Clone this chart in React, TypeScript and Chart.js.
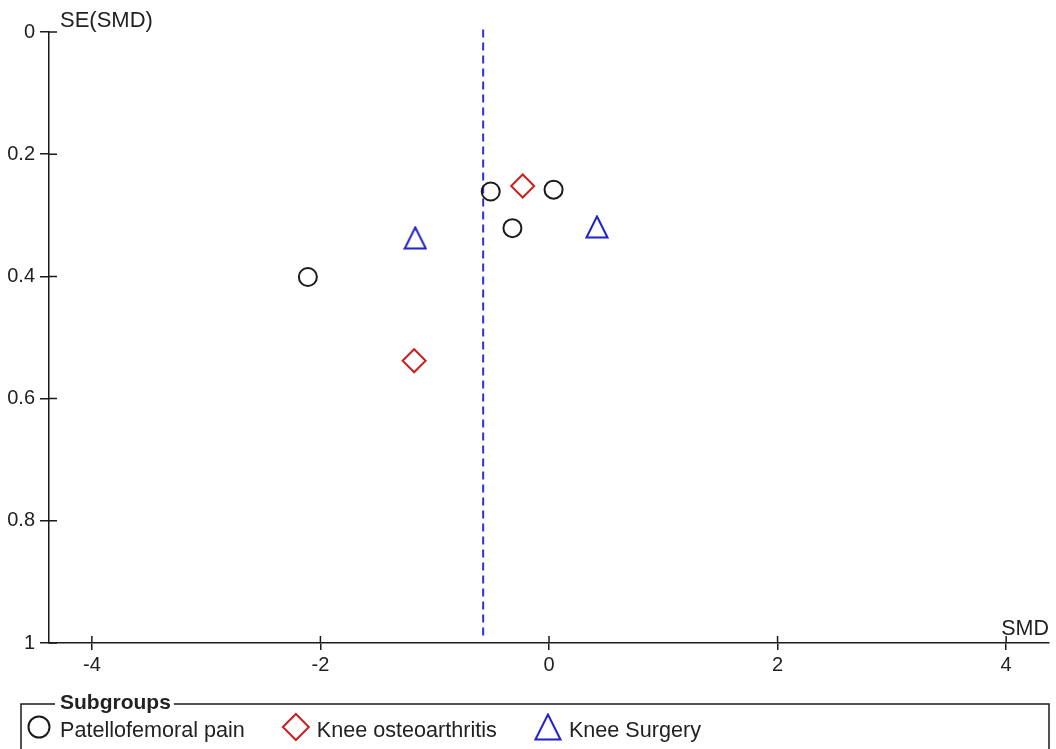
import React, { useEffect, useRef } from 'react';
import { Chart, registerables } from 'chart.js';
import { drawPoint } from 'chart.js/helpers';

Chart.register(...registerables);

// ---- data ----
const xTicks = [-4, -2, 0, 2, 4];
const yTicks = [0, 0.2, 0.4, 0.6, 0.8, 1];
const pfpSMD = [-2.11, -0.51, -0.32, 0.04];
const pfpSE = [0.401, 0.261, 0.321, 0.258];
const oaSMD = [-0.23, -1.18];
const oaSE = [0.252, 0.538];
const surgerySMD = [-1.17, 0.42];
const surgerySE = [0.337, 0.319];
const pooledSMD = -0.576;
const pooledSERange = [-0.004, 0.994];
const subgroupLabels = ['Patellofemoral pain', 'Knee osteoarthritis', 'Knee Surgery'];
const legendTitle = 'Subgroups';
const xTitle = 'SMD';
const yTitle = 'SE(SMD)';

const FONT = '"Liberation Sans", Arial, Helvetica, sans-serif';
const INK = '#1a1a1a';
const TXT = '#222';
const RED = '#cc2020';
const BLUE = '#2020c4';
const CANVAS_W = 1063;
const CANVAS_H = 749;

const pts = (xs: number[], ys: number[]) => xs.map((x, i) => ({ x, y: ys[i] }));

function makeTriangle(size: number, color: string, lw: number): HTMLCanvasElement {
  const c = document.createElement('canvas');
  c.width = size;
  c.height = size;
  const g = c.getContext('2d')!;
  const h = lw / 2 + 0.5;
  g.strokeStyle = color;
  g.lineWidth = lw;
  g.lineJoin = 'miter';
  g.beginPath();
  g.moveTo(size / 2, h);
  g.lineTo(size - h, size - h);
  g.lineTo(h, size - h);
  g.closePath();
  g.stroke();
  return c;
}

const decorPlugin = {
  id: 'decor',
  afterDraw(chart: any) {
    const ctx = chart.ctx as CanvasRenderingContext2D;
    const { left, top, right, bottom } = chart.chartArea;
    const xs = chart.scales.x;
    const ys = chart.scales.y;
    ctx.save();
    ctx.strokeStyle = INK;
    ctx.lineWidth = 1.5;
    ctx.beginPath();
    xTicks.forEach((v) => {
      const p = xs.getPixelForValue(v);
      ctx.moveTo(p, bottom);
      ctx.lineTo(p, bottom - 7);
    });
    yTicks.forEach((v) => {
      const p = ys.getPixelForValue(v);
      ctx.moveTo(left, p);
      ctx.lineTo(left + 8, p);
    });
    ctx.stroke();

    ctx.fillStyle = TXT;
    ctx.font = `22px ${FONT}`;
    ctx.textBaseline = 'alphabetic';
    ctx.textAlign = 'left';
    ctx.fillText(yTitle, left + 11, top - 5);
    ctx.font = `21.5px ${FONT}`;
    ctx.textAlign = 'right';
    ctx.fillText(xTitle, right, bottom - 8);

    // legend box
    const boxL = 21;
    const boxT = 704;
    const boxR = right;
    const boxB = chart.height + 5;
    const titleX = 60;
    ctx.font = `bold 21px ${FONT}`;
    const tw = ctx.measureText(legendTitle).width;
    ctx.beginPath();
    ctx.moveTo(boxL, boxB);
    ctx.lineTo(boxL, boxT);
    ctx.lineTo(titleX - 5, boxT);
    ctx.moveTo(titleX + tw + 3, boxT);
    ctx.lineTo(boxR, boxT);
    ctx.lineTo(boxR, boxB);
    ctx.stroke();
    ctx.textAlign = 'left';
    ctx.fillText(legendTitle, titleX, 709);

    // legend items
    ctx.font = `21.6px ${FONT}`;
    const legendStyles = [
      { pointStyle: 'circle', radius: 10.5 },
      { pointStyle: 'rectRot', radius: 13 },
      { pointStyle: makeTriangle(28, BLUE, 2), radius: 13 },
    ];
    let x = 28;
    const cy = 727;
    for (let i = 0; i < subgroupLabels.length; i++) {
      const ds = chart.data.datasets[i];
      const st = legendStyles[i];
      const cx = x + 11;
      ctx.fillStyle = 'rgba(0,0,0,0)';
      ctx.strokeStyle = ds.pointBorderColor;
      ctx.lineWidth = ds.pointBorderWidth;
      drawPoint(ctx, { pointStyle: st.pointStyle, radius: st.radius, rotation: 0, borderWidth: 2 } as any, cx, cy);
      ctx.fillStyle = TXT;
      const tx = x + 32;
      ctx.fillText(subgroupLabels[i], tx, 737);
      x = tx + ctx.measureText(subgroupLabels[i]).width + 40;
    }
    ctx.restore();
  },
};

export default function App() {
  const ref = useRef<HTMLCanvasElement>(null);
  useEffect(() => {
    document.body.style.margin = '0';
    const canvas = ref.current!;
    const tickFont = { family: FONT, size: 20 };
    const triangle = makeTriangle(24, BLUE, 2);
    const chart = new Chart(canvas, {
      type: 'scatter',
      data: {
        datasets: [
          {
            label: subgroupLabels[0],
            data: pts(pfpSMD, pfpSE),
            pointStyle: 'circle',
            pointRadius: 9,
            pointHoverRadius: 9,
            pointBorderWidth: 2,
            pointBorderColor: INK,
            pointBackgroundColor: 'rgba(0,0,0,0)',
          },
          {
            label: subgroupLabels[1],
            data: pts(oaSMD, oaSE),
            pointStyle: 'rectRot',
            pointRadius: 11.5,
            pointHoverRadius: 11.5,
            pointBorderWidth: 2,
            pointBorderColor: RED,
            pointBackgroundColor: 'rgba(0,0,0,0)',
          },
          {
            label: subgroupLabels[2],
            data: pts(surgerySMD, surgerySE),
            pointStyle: triangle as any,
            pointRadius: 12,
            pointHoverRadius: 12,
            pointBorderWidth: 2,
            pointBorderColor: BLUE,
            pointBackgroundColor: 'rgba(0,0,0,0)',
          },
          {
            type: 'line',
            label: 'pooled',
            data: pooledSERange.map((y) => ({ x: pooledSMD, y })),
            borderColor: '#3030d0',
            borderWidth: 2,
            borderDash: [8, 5],
            pointRadius: 0,
            showLine: true,
            fill: false,
            clip: false,
          } as any,
        ],
      },
      options: {
        responsive: false,
        animation: false,
        events: [],
        layout: { padding: { top: 32, right: 0, left: 0, bottom: 0 } },
        plugins: { legend: { display: false }, tooltip: { enabled: false } },
        scales: {
          x: {
            type: 'linear',
            min: -4.375,
            max: 4.375,
            afterBuildTicks: (s: any) => {
              s.ticks = xTicks.map((v) => ({ value: v }));
            },
            afterFit: (s: any) => {
              s.height = 106;
            },
            ticks: {
              font: tickFont,
              color: TXT,
              padding: 3,
              maxRotation: 0,
              autoSkip: false,
              callback: (v: any) => String(v),
            },
            grid: {
              display: true,
              drawOnChartArea: false,
              drawTicks: true,
              tickLength: 7,
              color: INK,
              lineWidth: 1.5,
            },
            border: { display: true, color: INK, width: 1.5 },
          },
          y: {
            type: 'linear',
            reverse: true,
            min: 0,
            max: 1,
            afterBuildTicks: (s: any) => {
              s.ticks = yTicks.map((v) => ({ value: v }));
            },
            afterFit: (s: any) => {
              s.width = 49;
            },
            ticks: {
              font: tickFont,
              color: TXT,
              padding: 5,
              autoSkip: false,
              callback: (v: any) => String(v),
            },
            grid: {
              display: true,
              drawOnChartArea: false,
              drawTicks: true,
              tickLength: 9,
              color: INK,
              lineWidth: 1.5,
            },
            border: { display: true, color: INK, width: 1.5 },
          },
        },
      },
      plugins: [decorPlugin],
    });
    return () => chart.destroy();
  }, []);
  return (
    <div style={{ position: 'fixed', left: 0, top: 0, width: 1056, height: 749, overflow: 'hidden', background: '#fff' }}>
      <canvas ref={ref} width={CANVAS_W} height={CANVAS_H} style={{ display: 'block' }} />
    </div>
  );
}
